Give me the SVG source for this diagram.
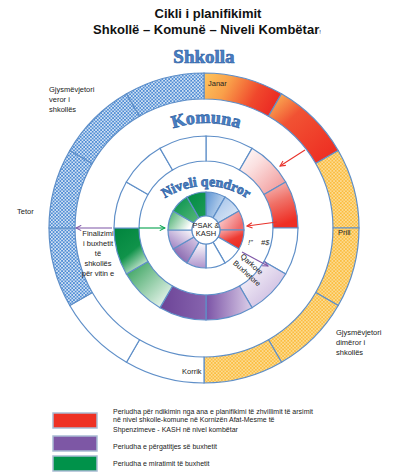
<svg xmlns="http://www.w3.org/2000/svg" width="395" height="472" viewBox="0 0 395 472">
<defs>
<style>
.seg{stroke:#5f8fc8;stroke-width:1.2}
.lbl{font-family:"Liberation Sans",Arial,sans-serif;font-size:7.5px;fill:#222}
.ttl{font-family:"Liberation Sans",Arial,sans-serif;font-size:13px;font-weight:bold;fill:#111}
.fancy{font-family:"Liberation Serif","DejaVu Serif",serif;font-weight:bold;fill:#4a80c4;stroke:#3567a8;stroke-width:0.7}
.leg{font-family:"Liberation Sans",Arial,sans-serif;font-size:7px;fill:#222}
.arw{fill:none;stroke-width:1.1}
</style>
<pattern id="pBlue" width="3.4" height="3.4" patternUnits="userSpaceOnUse"><rect width="3.4" height="3.4" fill="#4d8bd3"/><circle cx="0.85" cy="0.85" r="0.85" fill="#fff"/><circle cx="2.55" cy="2.55" r="0.85" fill="#fff"/></pattern>
<pattern id="pYel" width="3.4" height="3.4" patternUnits="userSpaceOnUse"><rect width="3.4" height="3.4" fill="#fbbd40"/><circle cx="0.85" cy="0.85" r="0.85" fill="#fde6ad"/><circle cx="2.55" cy="2.55" r="0.85" fill="#fde6ad"/></pattern>
<linearGradient id="gJanar" x1="0" y1="0" x2="1" y2="0.3"><stop offset="0" stop-color="#fdc65e"/><stop offset="0.35" stop-color="#f9a04a"/><stop offset="0.75" stop-color="#f0482c"/><stop offset="1" stop-color="#ec2f25"/></linearGradient>
<linearGradient id="gShkurt" x1="0" y1="0" x2="0.8" y2="0.9"><stop offset="0" stop-color="#fcc25a"/><stop offset="0.4" stop-color="#f15233"/><stop offset="1" stop-color="#ee3124"/></linearGradient>
<linearGradient id="gMPink" x1="0" y1="0" x2="1" y2="1"><stop offset="0" stop-color="#fff"/><stop offset="0.35" stop-color="#fbe0e0"/><stop offset="1" stop-color="#f08f8f"/></linearGradient>
<linearGradient id="gMRed" x1="0" y1="0" x2="0.3" y2="1"><stop offset="0" stop-color="#f6c4c4"/><stop offset="0.5" stop-color="#f07268"/><stop offset="1" stop-color="#ee2e24"/></linearGradient>
<linearGradient id="gMLav" x1="0" y1="0" x2="1" y2="1"><stop offset="0" stop-color="#fff"/><stop offset="1" stop-color="#c2acd9"/></linearGradient>
<linearGradient id="gMPurp" x1="1" y1="0" x2="0" y2="0"><stop offset="0" stop-color="#dccfe9"/><stop offset="1" stop-color="#7b53a6"/></linearGradient>
<linearGradient id="gMPurpD" x1="0" y1="0" x2="1" y2="0"><stop offset="0" stop-color="#6c4497"/><stop offset="1" stop-color="#8764ae"/></linearGradient>
<linearGradient id="gMLGreen" x1="0" y1="0" x2="1" y2="1"><stop offset="0" stop-color="#2a9c52"/><stop offset="1" stop-color="#fff"/></linearGradient>
<linearGradient id="gMDGreen" x1="0" y1="0" x2="0.6" y2="1"><stop offset="0" stop-color="#00843d"/><stop offset="0.6" stop-color="#10934a"/><stop offset="1" stop-color="#cbe8d3"/></linearGradient>
<linearGradient id="gIBlue1" x1="0" y1="0" x2="1" y2="0.5"><stop offset="0" stop-color="#5b93d3"/><stop offset="1" stop-color="#c6daf0"/></linearGradient>
<linearGradient id="gIBlue2" x1="0" y1="0" x2="1" y2="1"><stop offset="0" stop-color="#9dbfe8"/><stop offset="1" stop-color="#e6eef9"/></linearGradient>
<linearGradient id="gIPink" x1="0" y1="0" x2="1" y2="0.5"><stop offset="0" stop-color="#fde3e3"/><stop offset="1" stop-color="#ef6a6a"/></linearGradient>
<linearGradient id="gIRed" x1="0" y1="0" x2="0.6" y2="1"><stop offset="0" stop-color="#f7b0b0"/><stop offset="0.6" stop-color="#ee3b33"/><stop offset="1" stop-color="#ec2a22"/></linearGradient>
<linearGradient id="gILav1" x1="0" y1="0" x2="0" y2="1"><stop offset="0" stop-color="#fff"/><stop offset="1" stop-color="#ad93cc"/></linearGradient>
<linearGradient id="gIPurp" x1="1" y1="0" x2="0" y2="1"><stop offset="0" stop-color="#ddd0ea"/><stop offset="1" stop-color="#7650a2"/></linearGradient>
<linearGradient id="gILav2" x1="1" y1="0" x2="0" y2="1"><stop offset="0" stop-color="#fff"/><stop offset="1" stop-color="#9677bd"/></linearGradient>
<linearGradient id="gIGreen1" x1="1" y1="0.5" x2="0" y2="0"><stop offset="0" stop-color="#fff"/><stop offset="1" stop-color="#3aa862"/></linearGradient>
<linearGradient id="gIGreen2" x1="0" y1="0" x2="1" y2="1"><stop offset="0" stop-color="#00904a"/><stop offset="1" stop-color="#5cb97c"/></linearGradient>
<linearGradient id="gIGreen3" x1="0" y1="0" x2="1" y2="1"><stop offset="0" stop-color="#008a44"/><stop offset="1" stop-color="#1e9c56"/></linearGradient>
<marker id="mRed" viewBox="0 0 8 8" refX="7" refY="4" markerWidth="7" markerHeight="7" orient="auto" markerUnits="userSpaceOnUse"><path d="M1,1 L7,4 L1,7" fill="none" stroke="#e8312a" stroke-width="1.2"/></marker>
<marker id="mPurp" viewBox="0 0 8 8" refX="7" refY="4" markerWidth="7" markerHeight="7" orient="auto" markerUnits="userSpaceOnUse"><path d="M1,1 L7,4 L1,7" fill="none" stroke="#7d55a6" stroke-width="1.2"/></marker>
<marker id="mGreen" viewBox="0 0 8 8" refX="7" refY="4" markerWidth="7" markerHeight="7" orient="auto" markerUnits="userSpaceOnUse"><path d="M1,1 L7,4 L1,7" fill="none" stroke="#00a14b" stroke-width="1.2"/></marker>
<path id="arcKomuna" d="M138.5,147.6 A105,105 0 0 1 273.5,147.6"/>
<path id="arcNiveli" d="M144.6,218 A75,75 0 0 1 267.4,218"/>
</defs>
<rect width="395" height="472" fill="#fff"/>

<g id="title">
<text class="ttl" x="208" y="18" text-anchor="middle">Cikli i planifikimit</text>
<text class="ttl" x="207" y="34" text-anchor="middle">Shkollë – Komunë – Niveli Kombëtar<tspan font-size="6" font-weight="normal">!</tspan></text>
</g>

<g id="ring-shkolla">
<path class="seg" fill="url(#gJanar)" d="M204,73 A155,155 0 0 1 281.5,93.77 L268.5,116.28 A129,129 0 0 0 204,99 Z"/>
<path class="seg" fill="url(#gShkurt)" d="M281.5,93.77 A155,155 0 0 1 338.23,150.5 L315.72,163.5 A129,129 0 0 0 268.5,116.28 Z"/>
<path class="seg" fill="url(#pYel)" d="M338.23,150.5 A155,155 0 0 1 359,228 L333,228 A129,129 0 0 0 315.72,163.5 Z"/>
<path class="seg" fill="url(#pYel)" d="M359,228 A155,155 0 0 1 338.23,305.5 L315.72,292.5 A129,129 0 0 0 333,228 Z"/>
<path class="seg" fill="url(#pYel)" d="M338.23,305.5 A155,155 0 0 1 281.5,362.23 L268.5,339.72 A129,129 0 0 0 315.72,292.5 Z"/>
<path class="seg" fill="url(#pYel)" d="M281.5,362.23 A155,155 0 0 1 204,383 L204,357 A129,129 0 0 0 268.5,339.72 Z"/>
<path class="seg" fill="#fff" d="M204,383 A155,155 0 0 1 126.5,362.23 L139.5,339.72 A129,129 0 0 0 204,357 Z"/>
<path class="seg" fill="#fff" d="M126.5,362.23 A155,155 0 0 1 69.77,305.5 L92.28,292.5 A129,129 0 0 0 139.5,339.72 Z"/>
<path class="seg" fill="url(#pBlue)" d="M69.77,305.5 A155,155 0 0 1 49,228 L75,228 A129,129 0 0 0 92.28,292.5 Z"/>
<path class="seg" fill="url(#pBlue)" d="M49,228 A155,155 0 0 1 69.77,150.5 L92.28,163.5 A129,129 0 0 0 75,228 Z"/>
<path class="seg" fill="url(#pBlue)" d="M69.77,150.5 A155,155 0 0 1 126.5,93.77 L139.5,116.28 A129,129 0 0 0 92.28,163.5 Z"/>
<path class="seg" fill="url(#pBlue)" d="M126.5,93.77 A155,155 0 0 1 204,73 L204,99 A129,129 0 0 0 139.5,116.28 Z"/>
<text class="fancy" x="204" y="63" text-anchor="middle" font-size="19">Shkolla</text>
</g>

<g id="ring-komuna">
<path class="seg" fill="#fff" d="M206,136 A92,92 0 0 1 252,148.33 L239.5,169.98 A67,67 0 0 0 206,161 Z"/>
<path class="seg" fill="url(#gMPink)" d="M252,148.33 A92,92 0 0 1 285.67,182 L264.02,194.5 A67,67 0 0 0 239.5,169.98 Z"/>
<path class="seg" fill="url(#gMRed)" d="M285.67,182 A92,92 0 0 1 298,228 L273,228 A67,67 0 0 0 264.02,194.5 Z"/>
<path class="seg" fill="#fff" d="M298,228 A92,92 0 0 1 285.67,274 L264.02,261.5 A67,67 0 0 0 273,228 Z"/>
<path class="seg" fill="url(#gMLav)" d="M285.67,274 A92,92 0 0 1 252,307.67 L239.5,286.02 A67,67 0 0 0 264.02,261.5 Z"/>
<path class="seg" fill="url(#gMPurp)" d="M252,307.67 A92,92 0 0 1 206,320 L206,295 A67,67 0 0 0 239.5,286.02 Z"/>
<path class="seg" fill="url(#gMPurpD)" d="M206,320 A92,92 0 0 1 160,307.67 L172.5,286.02 A67,67 0 0 0 206,295 Z"/>
<path class="seg" fill="url(#gMLGreen)" d="M160,307.67 A92,92 0 0 1 126.33,274 L147.98,261.5 A67,67 0 0 0 172.5,286.02 Z"/>
<path class="seg" fill="url(#gMDGreen)" d="M126.33,274 A92,92 0 0 1 114,228 L139,228 A67,67 0 0 0 147.98,261.5 Z"/>
<path class="seg" fill="#fff" d="M114,228 A92,92 0 0 1 126.33,182 L147.98,194.5 A67,67 0 0 0 139,228 Z"/>
<path class="seg" fill="#fff" d="M126.33,182 A92,92 0 0 1 160,148.33 L172.5,169.98 A67,67 0 0 0 147.98,194.5 Z"/>
<path class="seg" fill="#fff" d="M160,148.33 A92,92 0 0 1 206,136 L206,161 A67,67 0 0 0 172.5,169.98 Z"/>
<text class="fancy" font-size="18"><textPath href="#arcKomuna" startOffset="50%" text-anchor="middle">Komuna</textPath></text>
</g>

<g id="ring-niveli">
<path class="seg" fill="url(#gIBlue1)" d="M206,192 A38,38 0 0 1 225,197.09 L213,217.88 A14,14 0 0 0 206,216 Z"/>
<path class="seg" fill="url(#gIBlue2)" d="M225,197.09 A38,38 0 0 1 238.91,211 L218.12,223 A14,14 0 0 0 213,217.88 Z"/>
<path class="seg" fill="url(#gIPink)" d="M238.91,211 A38,38 0 0 1 244,230 L220,230 A14,14 0 0 0 218.12,223 Z"/>
<path class="seg" fill="url(#gIRed)" d="M244,230 A38,38 0 0 1 238.91,249 L218.12,237 A14,14 0 0 0 220,230 Z"/>
<path class="seg" fill="#fff" d="M238.91,249 A38,38 0 0 1 225,262.91 L213,242.12 A14,14 0 0 0 218.12,237 Z"/>
<path class="seg" fill="#fff" d="M225,262.91 A38,38 0 0 1 206,268 L206,244 A14,14 0 0 0 213,242.12 Z"/>
<path class="seg" fill="url(#gILav1)" d="M206,268 A38,38 0 0 1 187,262.91 L199,242.12 A14,14 0 0 0 206,244 Z"/>
<path class="seg" fill="url(#gIPurp)" d="M187,262.91 A38,38 0 0 1 173.09,249 L193.88,237 A14,14 0 0 0 199,242.12 Z"/>
<path class="seg" fill="url(#gILav2)" d="M173.09,249 A38,38 0 0 1 168,230 L192,230 A14,14 0 0 0 193.88,237 Z"/>
<path class="seg" fill="url(#gIGreen1)" d="M168,230 A38,38 0 0 1 173.09,211 L193.88,223 A14,14 0 0 0 192,230 Z"/>
<path class="seg" fill="url(#gIGreen2)" d="M173.09,211 A38,38 0 0 1 187,197.09 L199,217.88 A14,14 0 0 0 193.88,223 Z"/>
<path class="seg" fill="url(#gIGreen3)" d="M187,197.09 A38,38 0 0 1 206,192 L206,216 A14,14 0 0 0 199,217.88 Z"/>
<text class="fancy" font-size="14"><textPath href="#arcNiveli" startOffset="50%" text-anchor="middle">Niveli qendror</textPath></text>
</g>

<g id="center-psak">
<circle cx="206" cy="230" r="14" fill="#fff" class="seg"/>
<text class="lbl" font-size="6" x="206" y="227.5" text-anchor="middle">PSAK &amp;</text>
<text class="lbl" font-size="6" x="206" y="235.5" text-anchor="middle">KASH</text>
</g>

<g id="labels">
<text class="lbl" font-size="7" x="208" y="86">Janar</text>
<text class="lbl" font-size="7.3" x="49" y="91.5">Gjysmëvjetori</text>
<text class="lbl" font-size="7.3" x="49" y="101.5">veror i</text>
<text class="lbl" font-size="7.3" x="49" y="111.5">shkollës</text>
<text class="lbl" x="17" y="213.5">Tetor</text>
<text class="lbl" x="338" y="234.5">Prill</text>
<text class="lbl" font-size="7.3" x="336" y="335">Gjysmëvjetori</text>
<text class="lbl" font-size="7.3" x="336" y="345">dimëror i</text>
<text class="lbl" font-size="7.3" x="336" y="355">shkollës</text>
<text class="lbl" x="182" y="373.5">Korrik</text>
<g text-anchor="middle">
<text class="lbl" font-size="7.3" x="98" y="235.5">Finalizimi</text>
<text class="lbl" font-size="7.3" x="98" y="245.5">i buxhetit</text>
<text class="lbl" font-size="7.3" x="98" y="255.5">të</text>
<text class="lbl" font-size="7.3" x="98" y="265.5">shkollës</text>
<text class="lbl" font-size="7.3" x="98" y="275.5">për vitin e</text>
</g>
<text class="lbl" font-size="7" font-style="italic" x="248" y="245">!"</text>
<text class="lbl" font-size="7" font-style="italic" x="261" y="245">#$</text>
<g transform="translate(240,257) rotate(42)">
<text class="lbl" font-size="8" x="0" y="0">Qarkore</text>
<text class="lbl" font-size="8" x="-1" y="10">Buxhetore</text>
</g>
</g>

<g id="connectors">
<line class="arw" stroke="#e8312a" x1="305" y1="150" x2="280" y2="166" marker-end="url(#mRed)"/>
<line class="arw" stroke="#e8312a" x1="277" y1="222" x2="247" y2="226" marker-end="url(#mRed)"/>
<line class="arw" stroke="#7d55a6" x1="242" y1="252" x2="268" y2="266" marker-end="url(#mPurp)"/>
<line class="arw" stroke="#00a14b" x1="139" y1="228" x2="165" y2="228" marker-end="url(#mGreen)"/>
<line class="arw" stroke="#7d55a6" x1="112" y1="228" x2="76" y2="228" marker-end="url(#mPurp)"/>
</g>

<g id="legend">
<rect x="53" y="413" width="44" height="15" fill="#ee3124" stroke="#a9bcd4" stroke-width="1.5"/>
<rect x="53" y="436" width="44" height="15" fill="#7d57a5" stroke="#a9bcd4" stroke-width="1.5"/>
<rect x="53" y="456" width="44" height="15" fill="#00924a" stroke="#a9bcd4" stroke-width="1.5"/>
<text class="leg" x="113" y="414">Periudha për ndikimin nga ana e planifikimi të zhvillimit të arsimit</text>
<text class="leg" x="113" y="422">në nivel shkolle-komune në Kornizën Afat-Mesme të</text>
<text class="leg" x="113" y="431.5">Shpenzimeve - KASH në nivel kombëtar</text>
<text class="leg" x="113" y="448.5">Periudha e përgatitjes së buxhetit</text>
<text class="leg" x="113" y="466">Periudha e miratimit të buxhetit</text>
</g>
</svg>
